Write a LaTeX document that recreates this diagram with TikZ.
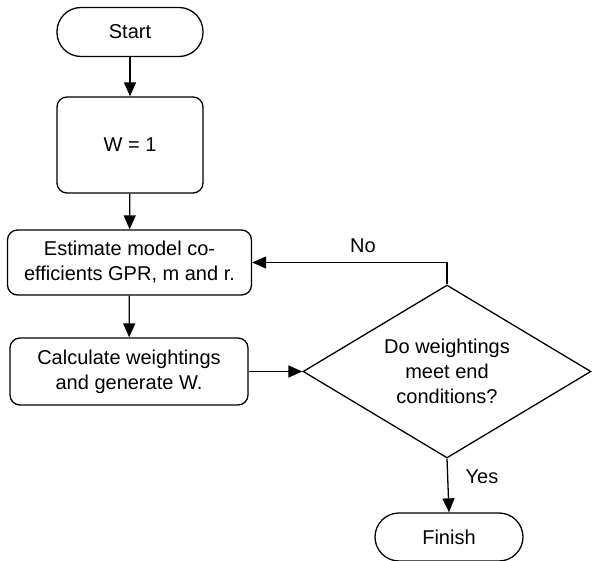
\documentclass[tikz,border=0pt]{standalone}
\usepackage{fontspec}
\setmainfont{Liberation Sans}
\usetikzlibrary{shapes.geometric,arrows.meta}
\begin{document}
\begin{tikzpicture}[x=1pt,y=-1pt,
  line width=1.3pt,
  every node/.style={font=\fontsize{20}{25}\selectfont, align=center, inner sep=0pt},
  term/.style={draw, rectangle, rounded corners=24pt, minimum width=146pt, minimum height=49pt},
  proc/.style={draw, rectangle, rounded corners=10pt},
  dec/.style={draw, diamond, minimum width=288pt, minimum height=173pt},
  arr/.style={-{Triangle[length=14pt,width=12pt]}},
  lbl/.style={draw=none}]
\useasboundingbox (0,0) rectangle (592,561);
\node[term] (start) at (130,32) {Start};
\node[proc, minimum width=146pt, minimum height=96pt] (w1) at (130,145) {W = 1};
\node[proc, minimum width=244pt, minimum height=65pt] (est) at (129.5,262.5) {Estimate model co-\\efficients GPR, m and r.};
\node[proc, minimum width=238pt, minimum height=67pt] (calc) at (129,371.5) {Calculate weightings\\and generate W.};
\node[dec] (dec) at (447,371.5) {};
\node[lbl] (dectext) at (dec.center) {\fontsize{20}{26}\selectfont Do weightings\\meet end\\conditions?};
\node[term, minimum width=148pt, minimum height=48pt] (fin) at (449,537) {Finish};
\node[lbl] (no) at (363,246) {No};
\node[lbl] (yes) at (482,477) {Yes};
\draw[arr] (start) -- (w1);
\draw[arr] (w1) -- (est);
\draw[arr] (est) -- (calc);
\draw[arr] (calc.east) -- (dec.west);
\draw[arr] (dec.north) |- (est.east);
\draw[arr] (dec.south) -- (fin.north);
\end{tikzpicture}
\end{document}
